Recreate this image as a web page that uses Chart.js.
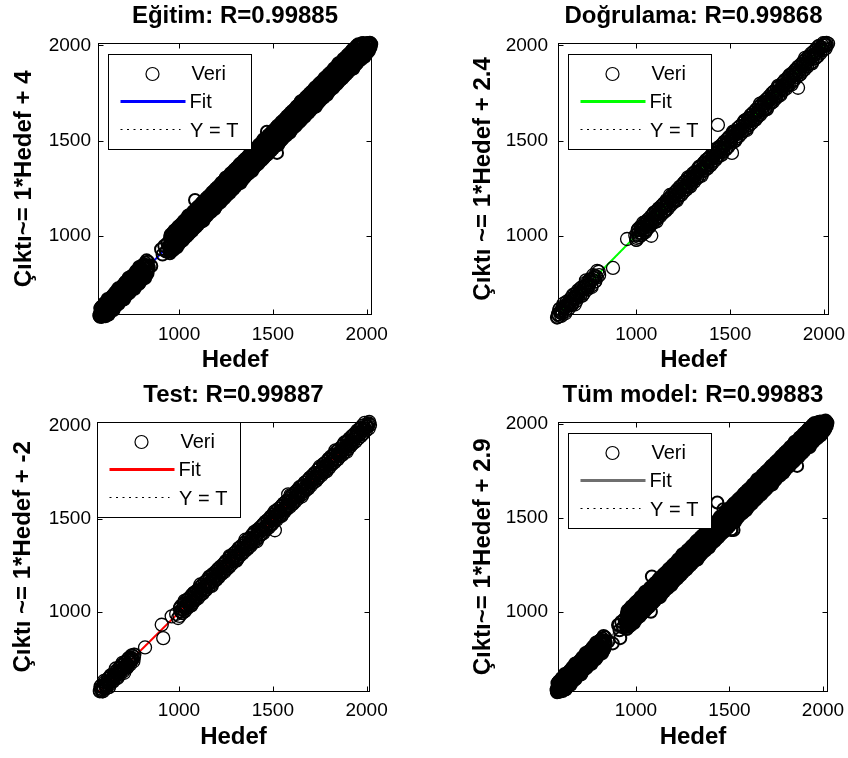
<!DOCTYPE html>
<html>
<head>
<meta charset="utf-8">
<title>Regresyon grafikleri</title>
<script src="https://cdn.jsdelivr.net/npm/chart.js@4.4.1/dist/chart.umd.min.js"></script>
<style>
  html, body { margin: 0; padding: 0; background: #fff; }
  #sayfa { position: relative; width: 848px; height: 758px; }
  .panel { position: absolute; width: 424px; height: 379px; }
</style>
</head>
<body>
<div id="sayfa">
  <div class="panel" style="left:0;top:0"><canvas id="c0" width="424" height="379"></canvas></div>
  <div class="panel" style="left:424px;top:0"><canvas id="c1" width="424" height="379"></canvas></div>
  <div class="panel" style="left:0;top:379px"><canvas id="c2" width="424" height="379"></canvas></div>
  <div class="panel" style="left:424px;top:379px"><canvas id="c3" width="424" height="379"></canvas></div>
</div>
<script>
// [hedef, cikti] pairs
const egitimVeri = [
  // lower cloud
  [575,583],[579,576],[583,623],[587,575],[591,616],[595,578],[599,614],[603,648],[607,587],[611,641],
  [615,610],[619,669],[623,588],[627,647],[631,639],[635,605],[639,679],[643,631],[647,672],[651,611],
  [655,670],[659,704],[663,643],[667,697],[671,666],[675,725],[679,644],[683,703],[687,695],[691,661],
  [695,735],[699,687],[703,728],[707,667],[711,726],[715,760],[719,699],[723,753],[727,722],[731,781],
  [735,700],[739,759],[743,751],[747,717],[751,791],[755,743],[759,784],[763,723],[767,782],[771,816],
  [775,755],[779,809],[783,778],[787,837],[791,756],[795,815],[799,807],[803,773],[807,847],[811,799],
  [815,840],[819,779],[823,838],[827,872],[831,811],[835,865],[839,834],
  [577,590],[581,585],[585,598],[589,593],[593,600],
  [577,580],[585,607],[593,593],[601,636],[609,584],[617,629],[625,587],[633,661],[641,646],[649,631],
  [657,647],[665,687],[673,673],[681,716],[689,664],[697,709],[705,667],[713,741],[721,726],[729,711],
  [737,727],[745,767],[753,753],[761,796],[769,744],[777,789],[785,747],[793,821],[801,806],[809,791],
  [817,807],[825,847],[833,833],
  [580,620],[588,630],[596,634],[604,645],[612,651],[620,660],[628,670],[636,674],[644,685],[652,691],
  [660,700],[668,710],[676,714],[684,725],[692,731],[700,740],[708,750],[716,754],[724,765],[732,771],
  [740,780],[748,790],[756,794],[764,805],[772,811],[780,820],[788,830],[796,834],[804,845],[812,851],[820,860],
  [608,578],[616,588],[624,592],[632,603],[640,609],[648,618],[656,628],[664,632],[672,643],[680,649],
  [688,658],[696,668],[704,672],[712,683],[720,689],[728,698],[736,708],[744,712],[752,723],[760,729],
  [768,738],[776,748],[784,752],[792,763],[800,769],[808,778],[816,788],[824,792],[832,803],
  // sparse part
  [852,842],[904,930],[912,902],[921,948],[930,918],[938,962],
  // main band, middle
  [946,950],[953,958],[960,967],[967,975],[974,980],[981,985],[988,990],[995,996],[1002,1005],[1009,1014],
  [1016,1022],[1023,1031],[1030,1039],[1037,1044],[1044,1049],[1051,1054],[1058,1060],[1065,1069],[1072,1078],[1079,1084],
  [1086,1090],[1093,1098],[1100,1107],[1107,1115],[1114,1120],[1121,1125],[1128,1130],[1135,1136],[1142,1145],[1149,1154],
  [1156,1162],[1163,1171],[1170,1179],[1177,1184],[1184,1189],[1191,1194],[1198,1200],[1205,1209],[1212,1218],[1219,1224],
  [1226,1230],[1233,1238],[1240,1247],[1247,1255],[1254,1260],[1261,1265],[1268,1270],[1275,1276],[1282,1285],[1289,1294],
  [1296,1302],[1303,1311],[1310,1319],[1317,1324],[1324,1329],[1331,1334],[1338,1340],[1345,1349],[1352,1358],[1359,1364],
  [1366,1370],[1373,1378],[1380,1387],[1387,1395],[1394,1400],[1401,1405],[1408,1410],[1415,1416],[1422,1425],[1429,1434],
  [1436,1442],[1443,1451],[1450,1459],[1457,1464],[1464,1469],[1471,1474],[1478,1480],[1485,1489],[1492,1498],[1499,1504],
  [1506,1510],[1513,1518],[1520,1527],[1527,1535],[1534,1540],[1541,1545],[1548,1550],[1555,1556],[1562,1565],[1569,1574],
  [1576,1582],[1583,1591],[1590,1599],[1597,1604],[1604,1609],[1611,1614],[1618,1620],[1625,1629],[1632,1638],[1639,1644],
  [1646,1650],[1653,1658],[1660,1667],[1667,1675],[1674,1680],[1681,1685],[1688,1690],[1695,1696],[1702,1705],[1709,1714],
  [1716,1722],[1723,1731],[1730,1739],[1737,1744],[1744,1749],[1751,1754],[1758,1760],[1765,1769],[1772,1778],[1779,1784],
  [1786,1790],[1793,1798],[1800,1807],[1807,1815],[1814,1820],[1821,1825],[1828,1830],[1835,1836],[1842,1845],[1849,1854],
  [1856,1862],[1863,1871],[1870,1879],[1877,1884],[1884,1889],[1891,1894],[1898,1900],[1905,1909],[1912,1918],[1919,1924],
  [1926,1930],[1933,1938],[1940,1947],[1947,1955],[1954,1960],[1961,1965],[1968,1970],[1975,1976],[1982,1985],[1989,1994],
  [1996,2002],[2003,2011],[2010,2013],[2017,2014],
  // main band, lower side
  [949,919],[956,927],[963,932],[970,937],[977,945],[984,954],[991,963],[998,971],[1005,976],[1012,981],
  [1019,985],[1026,991],[1033,1000],[1040,1009],[1047,1018],[1054,1026],[1061,1031],[1068,1036],[1075,1044],[1082,1053],
  [1089,1059],[1096,1067],[1103,1072],[1110,1077],[1117,1085],[1124,1094],[1131,1103],[1138,1111],[1145,1116],[1152,1121],
  [1159,1125],[1166,1131],[1173,1140],[1180,1149],[1187,1158],[1194,1166],[1201,1171],[1208,1176],[1215,1184],[1222,1193],
  [1229,1199],[1236,1207],[1243,1212],[1250,1217],[1257,1225],[1264,1234],[1271,1243],[1278,1251],[1285,1256],[1292,1261],
  [1299,1265],[1306,1271],[1313,1280],[1320,1289],[1327,1298],[1334,1306],[1341,1311],[1348,1316],[1355,1324],[1362,1333],
  [1369,1339],[1376,1347],[1383,1352],[1390,1357],[1397,1365],[1404,1374],[1411,1383],[1418,1391],[1425,1396],[1432,1401],
  [1439,1405],[1446,1411],[1453,1420],[1460,1429],[1467,1438],[1474,1446],[1481,1451],[1488,1456],[1495,1464],[1502,1473],
  [1509,1479],[1516,1487],[1523,1492],[1530,1497],[1537,1505],[1544,1514],[1551,1523],[1558,1531],[1565,1536],[1572,1541],
  [1579,1545],[1586,1551],[1593,1560],[1600,1569],[1607,1578],[1614,1586],[1621,1591],[1628,1596],[1635,1604],[1642,1613],
  [1649,1619],[1656,1627],[1663,1632],[1670,1637],[1677,1645],[1684,1654],[1691,1663],[1698,1671],[1705,1676],[1712,1681],
  [1719,1685],[1726,1691],[1733,1700],[1740,1709],[1747,1718],[1754,1726],[1761,1731],[1768,1736],[1775,1744],[1782,1753],
  [1789,1759],[1796,1767],[1803,1772],[1810,1777],[1817,1785],[1824,1794],[1831,1803],[1838,1811],[1845,1816],[1852,1821],
  [1859,1825],[1866,1831],[1873,1840],[1880,1849],[1887,1858],[1894,1866],[1901,1871],[1908,1876],[1915,1884],[1922,1893],
  [1929,1899],[1936,1907],[1943,1912],[1950,1917],[1957,1925],[1964,1934],[1971,1943],[1978,1951],[1985,1956],[1992,1961],
  [1999,1965],[2006,1971],[2013,1980],[2020,1989],
  [951,909],[961,921],[971,927],[981,940],[991,948],[1001,959],[1011,971],[1021,977],[1031,990],[1041,998],
  [1051,1009],[1061,1021],[1071,1027],[1081,1040],[1091,1048],[1101,1059],[1111,1071],[1121,1077],[1131,1090],[1141,1098],
  [1151,1109],[1161,1121],[1171,1127],[1181,1140],[1191,1148],[1201,1159],[1211,1171],[1221,1177],[1231,1190],[1241,1198],
  [1251,1209],[1261,1221],[1271,1227],[1281,1240],[1291,1248],[1301,1259],[1311,1271],[1321,1277],[1331,1290],[1341,1298],
  [1351,1309],[1361,1321],[1371,1327],[1381,1340],[1391,1348],[1401,1359],[1411,1371],[1421,1377],[1431,1390],[1441,1398],
  [1451,1409],[1461,1421],[1471,1427],[1481,1440],[1491,1448],[1501,1459],[1511,1471],[1521,1477],[1531,1490],[1541,1498],
  [1551,1509],[1561,1521],[1571,1527],[1581,1540],[1591,1548],[1601,1559],[1611,1571],[1621,1577],[1631,1590],[1641,1598],
  [1651,1609],[1661,1621],[1671,1627],[1681,1640],[1691,1648],[1701,1659],[1711,1671],[1721,1677],[1731,1690],[1741,1698],
  [1751,1709],[1761,1721],[1771,1727],[1781,1740],[1791,1748],[1801,1759],[1811,1771],[1821,1777],[1831,1790],[1841,1798],
  [1851,1809],[1861,1821],[1871,1827],[1881,1840],[1891,1848],[1901,1859],[1911,1871],[1921,1877],[1931,1890],[1941,1898],
  [1951,1909],[1961,1921],[1971,1927],[1981,1940],[1991,1948],[2001,1959],[2011,1971],
  // main band, upper side
  [952,992],[959,1000],[966,1009],[973,1015],[980,1020],[987,1025],[994,1031],[1001,1040],[1008,1049],[1015,1059],
  [1022,1067],[1029,1072],[1036,1077],[1043,1082],[1050,1088],[1057,1097],[1064,1106],[1071,1114],[1078,1119],[1085,1125],
  [1092,1132],[1099,1140],[1106,1149],[1113,1155],[1120,1160],[1127,1165],[1134,1171],[1141,1180],[1148,1189],[1155,1199],
  [1162,1207],[1169,1212],[1176,1217],[1183,1222],[1190,1228],[1197,1237],[1204,1246],[1211,1254],[1218,1259],[1225,1265],
  [1232,1272],[1239,1280],[1246,1289],[1253,1295],[1260,1300],[1267,1305],[1274,1311],[1281,1320],[1288,1329],[1295,1339],
  [1302,1347],[1309,1352],[1316,1357],[1323,1362],[1330,1368],[1337,1377],[1344,1386],[1351,1394],[1358,1399],[1365,1405],
  [1372,1412],[1379,1420],[1386,1429],[1393,1435],[1400,1440],[1407,1445],[1414,1451],[1421,1460],[1428,1469],[1435,1479],
  [1442,1487],[1449,1492],[1456,1497],[1463,1502],[1470,1508],[1477,1517],[1484,1526],[1491,1534],[1498,1539],[1505,1545],
  [1512,1552],[1519,1560],[1526,1569],[1533,1575],[1540,1580],[1547,1585],[1554,1591],[1561,1600],[1568,1609],[1575,1619],
  [1582,1627],[1589,1632],[1596,1637],[1603,1642],[1610,1648],[1617,1657],[1624,1666],[1631,1674],[1638,1679],[1645,1685],
  [1652,1692],[1659,1700],[1666,1709],[1673,1715],[1680,1720],[1687,1725],[1694,1731],[1701,1740],[1708,1749],[1715,1759],
  [1722,1767],[1729,1772],[1736,1777],[1743,1782],[1750,1788],[1757,1797],[1764,1806],[1771,1814],[1778,1819],[1785,1825],
  [1792,1832],[1799,1840],[1806,1849],[1813,1855],[1820,1860],[1827,1865],[1834,1871],[1841,1880],[1848,1889],[1855,1899],
  [1862,1907],[1869,1912],[1876,1917],[1883,1922],[1890,1928],[1897,1937],[1904,1946],[1911,1954],[1918,1959],[1925,1965],
  [1932,1972],[1939,1980],[1946,1989],[1953,1995],[1960,2000],[1967,2005],[1974,2011],[1981,2013],
  [955,1007],[965,1015],[975,1029],[985,1036],[995,1048],[1005,1057],[1015,1065],[1025,1079],[1035,1086],[1045,1098],
  [1055,1107],[1065,1115],[1075,1129],[1085,1136],[1095,1148],[1105,1157],[1115,1165],[1125,1179],[1135,1186],[1145,1198],
  [1155,1207],[1165,1215],[1175,1229],[1185,1236],[1195,1248],[1205,1257],[1215,1265],[1225,1279],[1235,1286],[1245,1298],
  [1255,1307],[1265,1315],[1275,1329],[1285,1336],[1295,1348],[1305,1357],[1315,1365],[1325,1379],[1335,1386],[1345,1398],
  [1355,1407],[1365,1415],[1375,1429],[1385,1436],[1395,1448],[1405,1457],[1415,1465],[1425,1479],[1435,1486],[1445,1498],
  [1455,1507],[1465,1515],[1475,1529],[1485,1536],[1495,1548],[1505,1557],[1515,1565],[1525,1579],[1535,1586],[1545,1598],
  [1555,1607],[1565,1615],[1575,1629],[1585,1636],[1595,1648],[1605,1657],[1615,1665],[1625,1679],[1635,1686],[1645,1698],
  [1655,1707],[1665,1715],[1675,1729],[1685,1736],[1695,1748],[1705,1757],[1715,1765],[1725,1779],[1735,1786],[1745,1798],
  [1755,1807],[1765,1815],[1775,1829],[1785,1836],[1795,1848],[1805,1857],[1815,1865],[1825,1879],[1835,1886],[1845,1898],
  [1855,1907],[1865,1915],[1875,1929],[1885,1936],[1895,1948],[1905,1957],[1915,1965],[1925,1979],[1935,1986],[1945,1998],
  [1955,2007],
  // scattered around the band
  [949,924],[959,999],[969,959],[979,1004],[989,941],[999,1047],[1009,1014],[1019,987],[1029,1059],[1039,1024],
  [1049,1107],[1059,1019],[1069,1087],[1079,1077],[1089,1134],[1099,1071],[1109,1119],[1119,1171],[1129,1079],[1139,1167],
  [1149,1124],[1159,1199],[1169,1159],[1179,1204],[1189,1141],[1199,1247],[1209,1214],[1219,1187],[1229,1259],[1239,1224],
  [1249,1307],[1259,1219],[1269,1287],[1279,1277],[1289,1334],[1299,1271],[1309,1319],[1319,1371],[1329,1279],[1339,1367],
  [1349,1324],[1359,1399],[1369,1359],[1379,1404],[1389,1341],[1399,1447],[1409,1414],[1419,1387],[1429,1459],[1439,1424],
  [1449,1507],[1459,1419],[1469,1487],[1479,1477],[1489,1534],[1499,1471],[1509,1519],[1519,1571],[1529,1479],[1539,1567],
  [1549,1524],[1559,1599],[1569,1559],[1579,1604],[1589,1541],[1599,1647],[1609,1614],[1619,1587],[1629,1659],[1639,1624],
  [1649,1707],[1659,1619],[1669,1687],[1679,1677],[1689,1734],[1699,1671],[1709,1719],[1719,1771],[1729,1679],[1739,1767],
  [1749,1724],[1759,1799],[1769,1759],[1779,1804],[1789,1741],[1799,1847],[1809,1814],[1819,1787],[1829,1859],[1839,1824],
  [1849,1907],[1859,1819],[1869,1887],[1879,1877],[1889,1934],[1899,1871],[1909,1919],[1919,1971],[1929,1879],[1939,1967],
  [1949,1924],[1959,1999],[1969,1959],[1979,2004],[1989,1941],[1999,2010],[2009,2012],[2019,2000],
  [1085,1189],[1468,1547],[1522,1436],[2020,2012],[2024,2006]
];

const dogrulamaVeri = [
  [578,572],[583,590],[590,580],[597,606],[606,598],[615,622],[628,618],[640,652],[655,646],[668,676],
  [680,672],[695,706],[708,700],[722,730],[735,748],[748,740],[762,772],[778,790],[790,782],[800,812],
  [582,575],[592,617],[602,594],[612,644],[622,594],[632,644],[642,645],[652,637],[662,690],[672,640],
  [682,700],[692,687],[702,724],[712,687],[722,730],[732,767],[742,730],[752,767],[762,732],[772,777],
  [782,762],[792,817],[802,794],
  [585,588],[595,599],[605,611],[615,620],[625,628],[635,636],[645,645],[655,657],[665,669],[675,680],
  [685,688],[695,699],[705,711],[715,720],[725,728],[735,736],[745,745],[755,757],[765,769],[775,780],
  [785,788],
  [590,612],[610,630],[630,655],[650,671],[670,692],[690,714],[710,731],[730,753],[750,770],[770,794],
  [600,580],[620,603],[640,618],[660,641],[680,659],[700,682],[720,698],[740,721],[760,739],[780,762],
  [876,832],[951,984],
  [995,1002],[1002,990],[1010,1030],[1018,1005],[1025,1040],[1033,1012],[1042,1058],[1050,1030],[1058,1075],[1066,1050],
  [1075,1062],[1080,1001],[1088,1110],[1096,1085],[1104,1122],[1112,1100],[1120,1142],[1130,1118],[1140,1160],[1150,1135],
  [1162,1180],[1175,1165],[1188,1210],[1200,1190],[1212,1232],[1225,1215],[1238,1258],[1250,1240],[1262,1282],[1275,1262],
  [1288,1308],[1300,1290],[1312,1332],[1325,1310],[1338,1360],[1350,1338],[1362,1385],[1375,1360],[1388,1410],[1400,1390],
  [1412,1432],[1425,1410],[1435,1583],[1440,1462],[1452,1440],[1465,1488],[1478,1462],[1490,1510],[1510,1436],[1505,1495],
  [1520,1540],[1535,1522],[1550,1572],[1565,1550],[1580,1600],[1595,1582],[1610,1632],[1625,1612],[1640,1662],[1655,1640],
  [1670,1692],[1685,1668],[1700,1720],[1715,1705],[1730,1752],[1745,1730],[1760,1782],[1775,1762],[1790,1812],[1805,1790],
  [1820,1842],[1835,1820],[1850,1870],[1862,1778],[1868,1858],[1885,1905],[1900,1890],[1920,1940],[1940,1930],[1960,1975],
  [1985,1990],[2005,2012],[2015,2000],[2022,2010],
  [1000,980],[1012,1037],[1024,1016],[1036,1068],[1048,1020],[1060,1072],[1072,1075],[1084,1069],[1096,1124],[1108,1076],
  [1120,1138],[1132,1127],[1144,1166],[1156,1131],[1168,1176],[1180,1215],[1192,1180],[1204,1219],[1216,1186],[1228,1233],
  [1240,1220],[1252,1277],[1264,1256],[1276,1308],[1288,1260],[1300,1312],[1312,1315],[1324,1309],[1336,1364],[1348,1316],
  [1360,1378],[1372,1367],[1384,1406],[1396,1371],[1408,1416],[1420,1455],[1432,1420],[1444,1459],[1456,1426],[1468,1473],
  [1480,1460],[1492,1517],[1504,1496],[1516,1548],[1528,1500],[1540,1552],[1552,1555],[1564,1549],[1576,1604],[1588,1556],
  [1600,1618],[1612,1607],[1624,1646],[1636,1611],[1648,1656],[1660,1695],[1672,1660],[1684,1699],[1696,1666],[1708,1713],
  [1720,1700],[1732,1757],[1744,1736],[1756,1788],[1768,1740],[1780,1792],[1792,1795],[1804,1789],[1816,1844],[1828,1796],
  [1840,1858],[1852,1847],[1864,1886],[1876,1851],[1888,1896],[1900,1935],[1912,1900],[1924,1939],[1936,1906],[1948,1953],
  [1960,1940],[1972,1997],[1984,1976],[1996,2012],[2008,2000],
  [1004,1007],[1014,1018],[1024,1030],[1034,1039],[1044,1047],[1054,1055],[1064,1064],[1074,1076],[1084,1088],[1094,1099],
  [1104,1107],[1114,1118],[1124,1130],[1134,1139],[1144,1147],[1154,1155],[1164,1164],[1174,1176],[1184,1188],[1194,1199],
  [1204,1207],[1214,1218],[1224,1230],[1234,1239],[1244,1247],[1254,1255],[1264,1264],[1274,1276],[1284,1288],[1294,1299],
  [1304,1307],[1314,1318],[1324,1330],[1334,1339],[1344,1347],[1354,1355],[1364,1364],[1374,1376],[1384,1388],[1394,1399],
  [1404,1407],[1414,1418],[1424,1430],[1434,1439],[1444,1447],[1454,1455],[1464,1464],[1474,1476],[1484,1488],[1494,1499],
  [1504,1507],[1514,1518],[1524,1530],[1534,1539],[1544,1547],[1554,1555],[1564,1564],[1574,1576],[1584,1588],[1594,1599],
  [1604,1607],[1614,1618],[1624,1630],[1634,1639],[1644,1647],[1654,1655],[1664,1664],[1674,1676],[1684,1688],[1694,1699],
  [1704,1707],[1714,1718],[1724,1730],[1734,1739],[1744,1747],[1754,1755],[1764,1764],[1774,1776],[1784,1788],[1794,1799],
  [1804,1807],[1814,1818],[1824,1830],[1834,1839],[1844,1847],[1854,1855],[1864,1864],[1874,1876],[1884,1888],[1894,1899],
  [1904,1907],[1914,1918],[1924,1930],[1934,1939],[1944,1947],[1954,1955],[1964,1964],[1974,1976],[1984,1988],[1994,1999],
  [2004,2007],[2014,2013],
  [1008,1032],[1022,1048],[1036,1058],[1050,1075],[1064,1087],[1078,1102],[1092,1118],[1106,1128],[1120,1145],[1134,1157],
  [1148,1172],[1162,1188],[1176,1198],[1190,1215],[1204,1227],[1218,1242],[1232,1258],[1246,1268],[1260,1285],[1274,1297],
  [1288,1312],[1302,1328],[1316,1338],[1330,1355],[1344,1367],[1358,1382],[1372,1398],[1386,1408],[1400,1425],[1414,1437],
  [1428,1452],[1442,1468],[1456,1478],[1470,1495],[1484,1507],[1498,1522],[1512,1538],[1526,1548],[1540,1565],[1554,1577],
  [1568,1592],[1582,1608],[1596,1618],[1610,1635],[1624,1647],[1638,1662],[1652,1678],[1666,1688],[1680,1705],[1694,1717],
  [1708,1732],[1722,1748],[1736,1758],[1750,1775],[1764,1787],[1778,1802],[1792,1818],[1806,1828],[1820,1845],[1834,1857],
  [1848,1872],[1862,1888],[1876,1898],[1890,1915],[1904,1927],[1918,1942],[1932,1958],[1946,1968],[1960,1985],[1974,1997],
  [1001,979],[1015,995],[1029,1005],[1043,1022],[1057,1034],[1071,1049],[1085,1065],[1099,1075],[1113,1092],[1127,1104],
  [1141,1119],[1155,1135],[1169,1145],[1183,1162],[1197,1174],[1211,1189],[1225,1205],[1239,1215],[1253,1232],[1267,1244],
  [1281,1259],[1295,1275],[1309,1285],[1323,1302],[1337,1314],[1351,1329],[1365,1345],[1379,1355],[1393,1372],[1407,1384],
  [1421,1399],[1435,1415],[1449,1425],[1463,1442],[1477,1454],[1491,1469],[1505,1485],[1519,1495],[1533,1512],[1547,1524],
  [1561,1539],[1575,1555],[1589,1565],[1603,1582],[1617,1594],[1631,1609],[1645,1625],[1659,1635],[1673,1652],[1687,1664],
  [1701,1679],[1715,1695],[1729,1705],[1743,1722],[1757,1734],[1771,1749],[1785,1765],[1799,1775],[1813,1792],[1827,1804],
  [1841,1819],[1855,1835],[1869,1845],[1883,1862],[1897,1874],[1911,1889],[1925,1905],[1939,1915],[1953,1932],[1967,1944],
  [1981,1959],[1995,1975],[2009,1985]
];

const testVeri = [
  [578,575],[582,590],[588,580],[594,600],[600,592],[607,612],[614,604],[620,628],[628,618],[636,648],
  [645,638],[652,662],[660,655],[668,680],[676,668],[685,700],[692,688],[700,715],[708,702],[715,728],
  [722,716],[730,742],[738,730],[745,755],[752,745],[760,770],
  [582,600],[591,575],[600,630],[609,599],[618,624],[627,597],[636,660],[645,629],[654,666],[663,697],
  [672,646],[681,683],[690,682],[699,727],[708,674],[717,731],[726,706],[735,755],[744,740],[753,763],
  [762,772],
  [580,578],[589,586],[598,597],[607,607],[616,614],[625,621],[634,629],[643,640],[652,651],[661,659],
  [670,668],[679,676],[688,687],[697,697],[706,704],[715,711],[724,719],[733,730],[742,741],[751,749],
  [760,758],
  [586,606],[604,624],[622,643],[640,660],[658,679],[676,696],[694,715],[712,732],[730,750],[748,768],
  [595,575],[613,592],[631,611],[649,628],[667,647],[685,664],[703,683],[721,700],[739,719],[757,736],
  [819,810],[908,932],[916,860],[961,977],[985,990],[995,968],
  [1005,1018],[1015,1002],[1025,1040],[1035,1020],[1045,1062],[1055,1040],[1065,1080],[1075,1060],[1085,1100],[1095,1080],
  [1105,1122],[1115,1098],[1125,1145],[1135,1118],[1148,1165],[1160,1142],[1172,1192],[1185,1168],[1198,1218],[1210,1195],
  [1222,1240],[1235,1218],[1248,1268],[1260,1245],[1272,1292],[1285,1270],[1298,1318],[1310,1292],[1322,1342],[1335,1320],
  [1348,1368],[1360,1345],[1372,1392],[1385,1370],[1398,1418],[1410,1395],[1422,1442],[1435,1420],[1448,1470],[1460,1445],
  [1472,1492],[1485,1470],[1498,1520],[1511,1439],[1510,1495],[1522,1545],[1535,1520],[1548,1570],[1560,1545],[1572,1595],
  [1582,1632],[1585,1570],[1598,1620],[1610,1595],[1622,1645],[1635,1620],[1648,1670],[1660,1645],[1672,1695],[1685,1670],
  [1698,1720],[1710,1695],[1722,1745],[1735,1722],[1748,1770],[1760,1745],[1772,1795],[1785,1770],[1798,1818],[1810,1795],
  [1822,1842],[1835,1820],[1848,1868],[1860,1848],[1872,1890],[1885,1872],[1898,1915],[1910,1900],[1922,1940],[1935,1925],
  [1948,1962],[1960,1952],[1972,1985],[1985,1978],[1995,2005],[2005,1998],[2012,2012],[2018,2004],
  [1006,1024],[1018,996],[1030,1060],[1042,1032],[1054,1060],[1066,1036],[1078,1102],[1090,1074],[1102,1114],[1114,1148],
  [1126,1100],[1138,1140],[1150,1142],[1162,1190],[1174,1140],[1186,1200],[1198,1178],[1210,1230],[1222,1218],[1234,1244],
  [1246,1264],[1258,1236],[1270,1300],[1282,1272],[1294,1300],[1306,1276],[1318,1342],[1330,1314],[1342,1354],[1354,1388],
  [1366,1340],[1378,1380],[1390,1382],[1402,1430],[1414,1380],[1426,1440],[1438,1418],[1450,1470],[1462,1458],[1474,1484],
  [1486,1504],[1498,1476],[1510,1540],[1522,1512],[1534,1540],[1546,1516],[1558,1582],[1570,1554],[1582,1594],[1594,1628],
  [1606,1580],[1618,1620],[1630,1622],[1642,1670],[1654,1620],[1666,1680],[1678,1658],[1690,1710],[1702,1698],[1714,1724],
  [1726,1744],[1738,1716],[1750,1780],[1762,1752],[1774,1780],[1786,1756],[1798,1822],[1810,1794],[1822,1834],[1834,1868],
  [1846,1820],[1858,1860],[1870,1862],[1882,1910],[1894,1860],[1906,1920],[1918,1898],[1930,1950],[1942,1938],[1954,1964],
  [1966,1984],[1978,1956],[1990,2015],[2002,1992],[2014,2020],
  [1008,1006],[1018,1015],[1028,1027],[1038,1038],[1048,1046],[1058,1054],[1068,1063],[1078,1075],[1088,1087],[1098,1096],
  [1108,1106],[1118,1115],[1128,1127],[1138,1138],[1148,1146],[1158,1154],[1168,1163],[1178,1175],[1188,1187],[1198,1196],
  [1208,1206],[1218,1215],[1228,1227],[1238,1238],[1248,1246],[1258,1254],[1268,1263],[1278,1275],[1288,1287],[1298,1296],
  [1308,1306],[1318,1315],[1328,1327],[1338,1338],[1348,1346],[1358,1354],[1368,1363],[1378,1375],[1388,1387],[1398,1396],
  [1408,1406],[1418,1415],[1428,1427],[1438,1438],[1448,1446],[1458,1454],[1468,1463],[1478,1475],[1488,1487],[1498,1496],
  [1508,1506],[1518,1515],[1528,1527],[1538,1538],[1548,1546],[1558,1554],[1568,1563],[1578,1575],[1588,1587],[1598,1596],
  [1608,1606],[1618,1615],[1628,1627],[1638,1638],[1648,1646],[1658,1654],[1668,1663],[1678,1675],[1688,1687],[1698,1696],
  [1708,1706],[1718,1715],[1728,1727],[1738,1738],[1748,1746],[1758,1754],[1768,1763],[1778,1775],[1788,1787],[1798,1796],
  [1808,1806],[1818,1815],[1828,1827],[1838,1838],[1848,1846],[1858,1854],[1868,1863],[1878,1875],[1888,1887],[1898,1896],
  [1908,1906],[1918,1915],[1928,1927],[1938,1938],[1948,1946],[1958,1954],[1968,1963],[1978,1975],[1988,1987],[1998,1996],
  [2008,2006],
  [1012,1034],[1026,1046],[1040,1064],[1054,1075],[1068,1091],[1082,1104],[1096,1116],[1110,1134],[1124,1145],[1138,1161],
  [1152,1174],[1166,1186],[1180,1204],[1194,1215],[1208,1231],[1222,1244],[1236,1256],[1250,1274],[1264,1285],[1278,1301],
  [1292,1314],[1306,1326],[1320,1344],[1334,1355],[1348,1371],[1362,1384],[1376,1396],[1390,1414],[1404,1425],[1418,1441],
  [1432,1454],[1446,1466],[1460,1484],[1474,1495],[1488,1511],[1502,1524],[1516,1536],[1530,1554],[1544,1565],[1558,1581],
  [1572,1594],[1586,1606],[1600,1624],[1614,1635],[1628,1651],[1642,1664],[1656,1676],[1670,1694],[1684,1705],[1698,1721],
  [1712,1734],[1726,1746],[1740,1764],[1754,1775],[1768,1791],[1782,1804],[1796,1816],[1810,1834],[1824,1845],[1838,1861],
  [1852,1874],[1866,1886],[1880,1904],[1894,1915],[1908,1931],[1922,1944],[1936,1956],[1950,1974],[1964,1985],[1978,2001],
  [1003,979],[1017,995],[1031,1005],[1045,1022],[1059,1034],[1073,1049],[1087,1065],[1101,1075],[1115,1092],[1129,1104],
  [1143,1119],[1157,1135],[1171,1145],[1185,1162],[1199,1174],[1213,1189],[1227,1205],[1241,1215],[1255,1232],[1269,1244],
  [1283,1259],[1297,1275],[1311,1285],[1325,1302],[1339,1314],[1353,1329],[1367,1345],[1381,1355],[1395,1372],[1409,1384],
  [1423,1399],[1437,1415],[1451,1425],[1465,1442],[1479,1454],[1493,1469],[1507,1485],[1521,1495],[1535,1512],[1549,1524],
  [1563,1539],[1577,1555],[1591,1565],[1605,1582],[1619,1594],[1633,1609],[1647,1625],[1661,1635],[1675,1652],[1689,1664],
  [1703,1679],[1717,1695],[1731,1705],[1745,1722],[1759,1734],[1773,1749],[1787,1765],[1801,1775],[1815,1792],[1829,1804],
  [1843,1819],[1857,1835],[1871,1845],[1885,1862],[1899,1874],[1913,1889],[1927,1905],[1941,1915],[1955,1932],[1969,1944],
  [1983,1959],[1997,1975],[2011,1985]
];

// "Tüm model" is the union of the three sets
const tumVeri = egitimVeri.concat(dogrulamaVeri, testVeri);

const basliklar = ['Eğitim: R=0.99885', 'Doğrulama: R=0.99868', 'Test: R=0.99887', 'Tüm model: R=0.99883'];
const yEtiketleri = ['Çıktı~= 1*Hedef + 4', 'Çıktı ~= 1*Hedef + 2.4', 'Çıktı ~= 1*Hedef + -2', 'Çıktı~= 1*Hedef + 2.9'];
const xEtiketi = 'Hedef';
const fitEgimleri = [1, 1, 1, 1];
const fitSabitleri = [4, 2.4, -2, 2.9];
const tikDegerleri = [1000, 1500, 2000];
const lejantEtiketleri = ['Veri', 'Fit', 'Y = T'];
const veriSetleri = [egitimVeri, dogrulamaVeri, testVeri, tumVeri];

// axis limits per panel
const eksenSinirlari = [
  { x: [568, 2028], y: [585, 2014] },
  { x: [583, 2027], y: [585, 2014] },
  { x: [563, 2018], y: [571, 2021] },
  { x: [583, 2027], y: [573, 2013] }
];

const fitRenkleri = ['#0000ff', '#00ff00', '#ff0000', '#6f6f6f'];
const halkaKalinligi = [2, 1.3, 1.3, 2];
const YAZI = '"Liberation Sans", Arial, Helvetica, sans-serif';

const yerlesim = [
  { yGenislik: 98,  yTik: 7,  yBaslik: 9.6,  sag: 52, xYukseklik: 64, xTik: 8.6, xBaslik: 4.6, lejant: [10, 11] },
  { yGenislik: 134, yTik: 10, yBaslik: 44.6, sag: 19, xYukseklik: 64, xTik: 8.6, xBaslik: 4.6, lejant: [10, 11] },
  { yGenislik: 97,  yTik: 6,  yBaslik: 8.6,  sag: 54, xYukseklik: 66, xTik: 7.3, xBaslik: 6.6, lejant: [0, 0] },
  { yGenislik: 134, yTik: 10, yBaslik: 44.6, sag: 20, xYukseklik: 66, xTik: 7.3, xBaslik: 6.6, lejant: [10, 11] }
];

// box, inward ticks on all sides and the legend, MATLAB style
const cerceve = {
  id: 'cerceve',
  afterDraw(chart, args, opts) {
    const { ctx, chartArea: a, scales } = chart;
    const L = Math.round(a.left) + 0.5, T = Math.round(a.top) + 0.5;
    const R = Math.round(a.right) - 0.5, B = Math.round(a.bottom) - 0.5;
    ctx.save();
    ctx.strokeStyle = '#000';
    ctx.lineWidth = 1;
    ctx.strokeRect(L, T, R - L, B - T);

    ctx.beginPath();
    scales.x.ticks.forEach(t => {
      const px = Math.round(scales.x.getPixelForValue(t.value)) + 0.5;
      ctx.moveTo(px, B); ctx.lineTo(px, B - 5);
      ctx.moveTo(px, T); ctx.lineTo(px, T + 5);
    });
    scales.y.ticks.forEach(t => {
      const py = Math.round(scales.y.getPixelForValue(t.value)) + 0.5;
      ctx.moveTo(L, py); ctx.lineTo(L + 5, py);
      ctx.moveTo(R, py); ctx.lineTo(R - 5, py);
    });
    ctx.stroke();

    // legend
    const ds = chart.data.datasets;
    const lx = L + opts.lejant[0], ly = T + opts.lejant[1];
    ctx.fillStyle = '#fff';
    ctx.fillRect(lx, ly, 143, 95);
    ctx.strokeRect(lx, ly, 143, 95);

    ctx.beginPath();
    ctx.lineWidth = 1.2;
    ctx.arc(lx + 44, ly + 19.5, 6.5, 0, Math.PI * 2);
    ctx.stroke();

    ctx.beginPath();
    ctx.strokeStyle = ds[1].borderColor;
    ctx.lineWidth = 3;
    ctx.moveTo(lx + 12, ly + 47);
    ctx.lineTo(lx + 77, ly + 47);
    ctx.stroke();

    ctx.beginPath();
    ctx.strokeStyle = '#000';
    ctx.lineWidth = 1;
    ctx.setLineDash([2, 4.5]);
    ctx.moveTo(lx + 12, ly + 75);
    ctx.lineTo(lx + 72, ly + 75);
    ctx.stroke();
    ctx.setLineDash([]);

    ctx.fillStyle = '#000';
    ctx.font = '20px ' + YAZI;
    ctx.textAlign = 'left';
    ctx.textBaseline = 'middle';
    ctx.fillText(ds[0].label, lx + 83, ly + 19.5);
    ctx.fillText(ds[1].label, lx + 81, ly + 48);
    ctx.fillText(ds[2].label, lx + 81.5, ly + 77);
    ctx.restore();
  }
};

function grafikCiz(i) {
  const s = eksenSinirlari[i];
  const y = yerlesim[i];
  const [x0, x1] = s.x;
  const m = fitEgimleri[i], b = fitSabitleri[i];

  new Chart(document.getElementById('c' + i), {
    type: 'scatter',
    data: {
      datasets: [
        {
          label: lejantEtiketleri[0],
          data: veriSetleri[i].map(p => ({ x: p[0], y: p[1] })),
          pointStyle: 'circle',
          pointRadius: halkaKalinligi[i] > 1.5 ? 6 : 6.5,
          pointBorderColor: '#000',
          pointBackgroundColor: 'rgba(0,0,0,0)',
          pointBorderWidth: halkaKalinligi[i],
          clip: false,
          order: 0
        },
        {
          label: lejantEtiketleri[1],
          data: [{ x: x0, y: m * x0 + b }, { x: x1, y: m * x1 + b }],
          showLine: true,
          borderColor: fitRenkleri[i],
          borderWidth: 2,
          pointRadius: 0,
          order: 1
        },
        {
          label: lejantEtiketleri[2],
          data: [{ x: x0, y: x0 }, { x: x1, y: x1 }],
          showLine: true,
          borderColor: '#000',
          borderWidth: 1,
          borderDash: [1, 3],
          pointRadius: 0,
          order: 2
        }
      ]
    },
    options: {
      responsive: false,
      animation: false,
      events: [],
      devicePixelRatio: 1,
      layout: { padding: { left: 0, right: y.sag, top: 0, bottom: 0 } },
      plugins: {
        legend: { display: false },
        tooltip: { enabled: false },
        title: {
          display: true,
          text: basliklar[i],
          fullSize: false,
          color: '#000',
          font: { family: YAZI, size: 24, weight: 'bold' },
          padding: { top: 2, bottom: 12 }
        },
        cerceve: { lejant: y.lejant }
      },
      scales: {
        x: {
          type: 'linear',
          min: x0,
          max: x1,
          afterBuildTicks: ax => { ax.ticks = tikDegerleri.map(v => ({ value: v })); },
          afterFit: ax => { ax.height = y.xYukseklik; ax.paddingLeft = 0; ax.paddingRight = 0; },
          grid: { display: false, drawTicks: false },
          border: { display: false },
          ticks: {
            color: '#000',
            font: { family: YAZI, size: 19 },
            padding: y.xTik,
            maxRotation: 0,
            autoSkip: false,
            callback: v => String(v)
          },
          title: {
            display: true,
            text: xEtiketi,
            color: '#000',
            font: { family: YAZI, size: 24, weight: 'bold' },
            padding: { top: 0, bottom: y.xBaslik }
          }
        },
        y: {
          type: 'linear',
          min: s.y[0],
          max: s.y[1],
          afterBuildTicks: ax => { ax.ticks = tikDegerleri.map(v => ({ value: v })); },
          afterFit: ax => { ax.width = y.yGenislik; ax.paddingTop = 0; ax.paddingBottom = 0; },
          grid: { display: false, drawTicks: false },
          border: { display: false },
          ticks: {
            color: '#000',
            font: { family: YAZI, size: 19 },
            padding: y.yTik,
            autoSkip: false,
            callback: v => String(v)
          },
          title: {
            display: true,
            text: yEtiketleri[i],
            color: '#000',
            font: { family: YAZI, size: 24, weight: 'bold' },
            padding: { top: y.yBaslik, bottom: 0 }
          }
        }
      }
    },
    plugins: [cerceve]
  });
}

for (let i = 0; i < 4; i++) {
  grafikCiz(i);
}
</script>
</body>
</html>
